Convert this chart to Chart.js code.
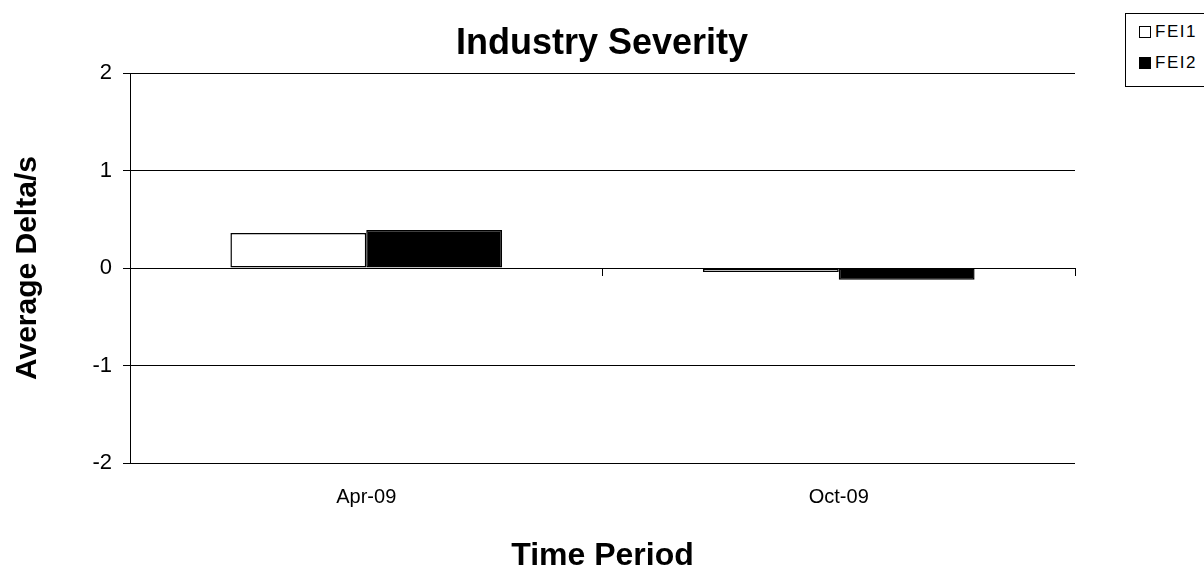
<!DOCTYPE html>
<html><head><meta charset="utf-8">
<script src="https://cdn.jsdelivr.net/npm/chart.js@4.4.0/dist/chart.umd.min.js"></script>
<style>
html,body{margin:0;padding:0;background:#fff;}
#wrap{position:relative;width:1204px;height:572px;overflow:hidden;}
#legend{position:absolute;left:1125px;top:13px;width:100px;height:72px;border:1px solid #000;background:#fff;
 font-family:"Liberation Sans",Arial,sans-serif;font-size:17px;color:#000;letter-spacing:1.5px;}
.li{position:absolute;left:13px;height:20px;line-height:20px;white-space:nowrap;}
.sw{display:inline-block;width:10px;height:10px;border:1px solid #000;vertical-align:-1px;margin-right:4px;}
</style></head>
<body><div id="wrap"><canvas id="c" width="1204" height="572"></canvas>
<div id="legend"></div></div>
<script>
const categories = ['Apr-09', 'Oct-09'];
const seriesNames = ['FEI1', 'FEI2'];
const fei1 = [0.36, -0.04];
const fei2 = [0.39, -0.12];
const yTickValues = [-2, -1, 0, 1, 2];
const fills = ['#ffffff', '#000000'];

const FONT = '"Liberation Sans", Arial, sans-serif';
Chart.defaults.font.family = FONT;
Chart.defaults.color = '#000';

// HTML legend built from the series names
const lg = document.getElementById('legend');
seriesNames.forEach((n, i) => {
  const d = document.createElement('div');
  d.className = 'li';
  d.style.top = (8 + i * 31) + 'px';
  d.innerHTML = '<span class="sw" style="background:' + fills[i] + '"></span>' + n;
  lg.appendChild(d);
});

new Chart(document.getElementById('c'), {
  type: 'bar',
  data: {
    labels: categories,
    datasets: [
      { label: seriesNames[0], data: fei1, backgroundColor: fills[0], borderColor: '#000', borderWidth: 1.5, borderSkipped: false },
      { label: seriesNames[1], data: fei2, backgroundColor: fills[1], borderColor: '#000', borderWidth: 1.5, borderSkipped: false }
    ]
  },
  options: {
    responsive: false,
    animation: false,
    events: [],
    categoryPercentage: 0.575,
    barPercentage: 1.0,
    layout: { padding: 0 },
    plugins: {
      legend: { display: false },
      tooltip: { enabled: false },
      title: {
        display: true, text: 'Industry Severity', color: '#000',
        font: { size: 36, weight: 'bold', family: FONT },
        padding: { top: 22, bottom: 8 }
      }
    },
    scales: {
      x: {
        type: 'category',
        position: { y: 0 },
        offset: true,
        ticks: { display: false },
        grid: { display: true, drawOnChartArea: false, drawTicks: true, tickLength: 7, color: '#000', lineWidth: 1, offset: true },
        border: { display: true, color: '#000', width: 1 }
      },
      x2: {
        type: 'category',
        position: 'bottom',
        offset: true,
        grid: { display: false, drawTicks: false },
        border: { display: false },
        ticks: { font: { size: 20, family: FONT }, color: '#000', padding: 22, maxRotation: 0 },
        title: { display: true, text: 'Time Period', color: '#000', font: { size: 32, weight: 'bold', family: FONT }, padding: { top: 0, bottom: -3 } },
        afterFit: s => { s.height = 109; }
      },
      y: {
        min: -2, max: 2,
        afterBuildTicks: s => { s.ticks = yTickValues.map(v => ({ value: v })); },
        ticks: { font: { size: 22, family: FONT }, color: '#000', padding: 11 },
        grid: { color: '#000', lineWidth: 1, tickLength: 7, drawTicks: true },
        border: { display: true, color: '#000', width: 1 },
        title: { display: true, text: 'Average Delta/s', color: '#000', font: { size: 30, weight: 'bold', family: FONT }, padding: { top: 10, bottom: 0 } },
        afterFit: s => { s.width = 130; }
      },
      yR: {
        type: 'linear',
        position: 'right',
        display: true,
        min: -2, max: 2,
        ticks: { display: false },
        grid: { display: false, drawTicks: false },
        border: { display: false },
        afterFit: s => { s.width = 129; }
      }
    }
  }
});
</script></body></html>
